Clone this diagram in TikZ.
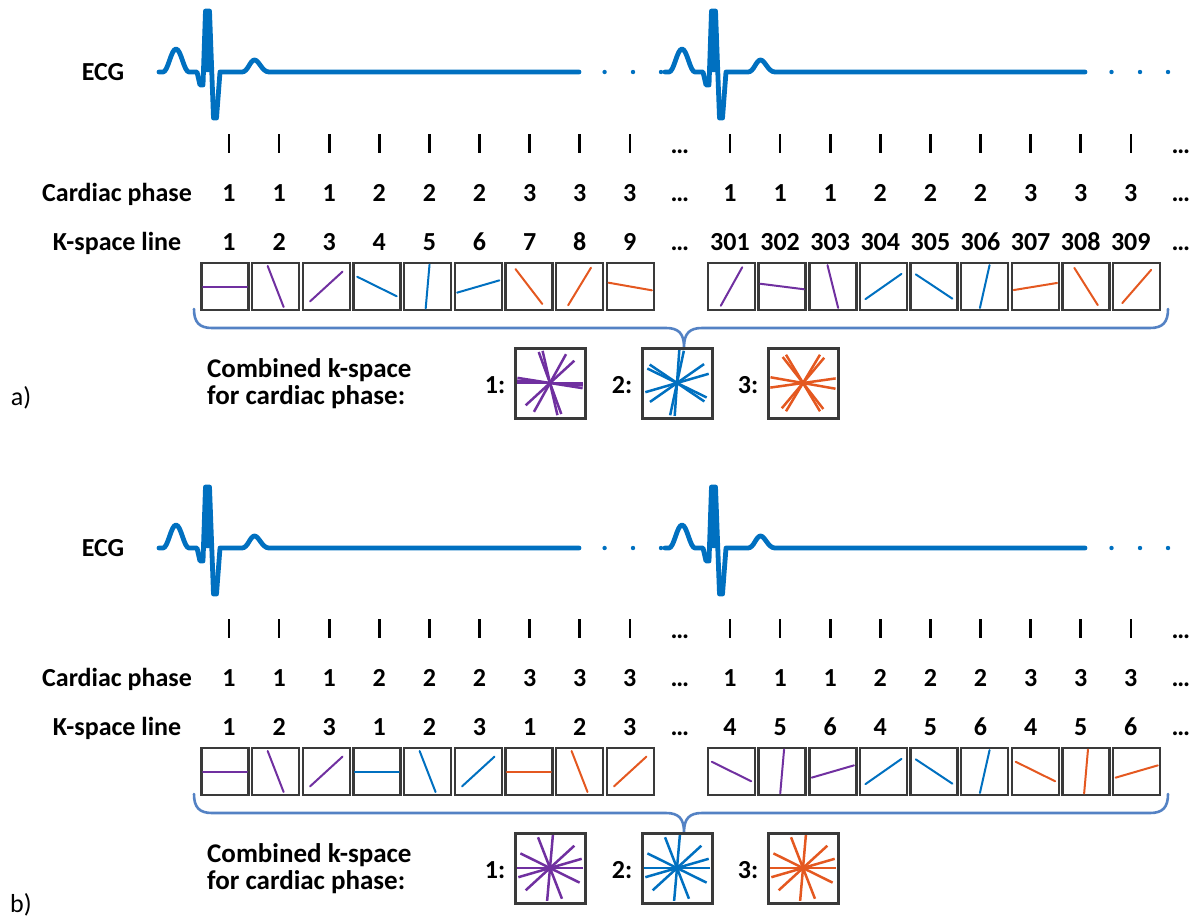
\documentclass[tikz,border=0pt]{standalone}
\usepackage{fontspec}
\setmainfont{Carlito}
\usetikzlibrary{calc}

\definecolor{ecgblue}{RGB}{0,112,192}
\definecolor{kpurple}{RGB}{112,48,160}
\definecolor{kblue}{RGB}{0,112,192}
\definecolor{korange}{RGB}{228,88,32}
\definecolor{framegray}{RGB}{58,58,58}
\definecolor{bracecol}{RGB}{84,130,196}

\tikzset{
  lbl/.style={font=\fontsize{26}{30}\selectfont\bfseries, inner sep=0pt, anchor=base},
  plain/.style={font=\fontsize{26}{30}\selectfont, inner sep=0pt},
  ecg/.style={draw=ecgblue, line width=4.8pt, line join=round, line cap=round},
  ecgdot/.style={fill=ecgblue, draw=none},
  tickmark/.style={line width=2.6pt, draw=black},
  kbox/.style={draw=framegray, line width=2.4pt, minimum size=47pt, inner sep=0pt},
  cbox/.style={draw=framegray, line width=3pt, minimum size=70pt, inner sep=0pt},
  spoke/.style={line width=2pt, line cap=round},
  cspoke/.style={line width=2.5pt},
  bracket/.style={draw=bracecol, line width=2.6pt, line cap=round, line join=round},
}

% one heart beat followed by the flat diastolic line
\newcommand\ecgtrace[2]{%
  \begin{scope}[shift={(#1,#2)}]
  \fill[ecgblue] (44.5,0) -- (46.5,-61) -- (50.5,-61) -- (53,0) -- cycle;
  \draw[ecg] (0,0) -- (4,0)
    .. controls (9,0) and (12,-23) .. (17,-23)
    .. controls (22,-23) and (25,0) .. (30,0) -- (38,0)
    -- (41,13) -- (44,13) -- (46.5,-61) -- (50.5,-61) -- (54.5,46) -- (57.5,46) -- (61,0)
    -- (83,0) .. controls (89,0) and (91,-12) .. (95.5,-12)
    .. controls (100,-12) and (103,0) .. (110,0) -- (420,0);
  \end{scope}}

% ECG, trigger ticks, cardiac phase row and row titles (shared by both panels)
\newcommand\sharedrows[2]{%
  \node[lbl] (#1-ecg) at (103,{#2+8}) {ECG};
  \ecgtrace{159}{#2}
  \ecgtrace{665}{#2}
  \foreach \x in {604.6,633,661,1111.5,1140,1168}
    \fill[ecgdot] (\x,#2) circle (2.2pt);
  \node[lbl] (#1-cpl) at (117,201) {Cardiac phase};
  \node[lbl] (#1-ksl) at (117,250) {K-space line};
  \foreach \j/\p in {0/1,1/1,2/1,3/2,4/2,5/2,6/3,7/3,8/3,10/1,11/1,12/1,13/2,14/2,15/2,16/3,17/3,18/3}{
    \draw[tickmark] ({229+50.1*\j},134) -- ({229+50.1*\j},153);
    \node[lbl] (#1-cp\j) at ({229+50.1*\j},201) {\p};
  }
  \foreach \j in {9,19}{
    \node[lbl] (#1-td\j) at ({229+50.1*\j},153) {…};
    \node[lbl] (#1-cd\j) at ({229+50.1*\j},201) {…};
    \node[lbl] (#1-kd\j) at ({229+50.1*\j},250) {…};
  }
  \draw[bracket] (194,309) .. controls (194,322) and (199,328) .. (212,328) -- (666,328)
    .. controls (678,328) and (684,333) .. (684,347)
    .. controls (684,333) and (690,328) .. (702,328) -- (1150,328)
    .. controls (1163,328) and (1168,322) .. (1168,309);
  \node[lbl, anchor=west, align=left, font=\fontsize{27}{27}\selectfont\bfseries]
    (#1-comb) at (207,384) {Combined k-space\\for cardiac phase:};
  \node[lbl, anchor=center] (#1-n1) at (495,385) {1:};
  \node[lbl, anchor=center] (#1-n2) at (622,385) {2:};
  \node[lbl, anchor=center] (#1-n3) at (748,385) {3:};
  \node[cbox] (#1-c1) at (550,383) {};
  \node[cbox] (#1-c2) at (677,383) {};
  \node[cbox] (#1-c3) at (803,383) {};
}

% k-space boxes: column, spoke angle, colour
\newcommand\kboxes[2]{%
  \foreach \j/\a/\c in {#2}{
    \node[kbox] (#1-k\j) at ({225+50.65*\j},286.5) {};
    \draw[spoke,\c] (#1-k\j.center) ++(\a:22pt) -- ++(\a+180:44pt);
  }
}

% combined k-space: box name, colour, angles
\newcommand\combined[3]{%
  \foreach \a in {#3}
    \draw[cspoke,#2] (#1.center) ++(\a:33pt) -- ++(\a+180:66pt);
}

\begin{document}
\begin{tikzpicture}[x=1pt,y=-1pt]
\useasboundingbox (0,0) rectangle (1202,922);

% ---------------- panel a: golden-angle ordering ----------------
\sharedrows{a}{72}
\foreach \j/\k in {0/1,1/2,2/3,3/4,4/5,5/6,6/7,7/8,8/9,10/301,11/302,12/303,13/304,14/305,15/306,16/307,17/308,18/309}
  \node[lbl] (a-ks\j) at ({229+50.1*\j},250) {\k};
\kboxes{a}{0/0/kpurple,1/111.25/kpurple,2/42.5/kpurple,3/153.7/kblue,4/85/kblue,5/16.2/kblue,6/127.5/korange,7/58.7/korange,8/170/korange,10/60.9/kpurple,11/172.8/kpurple,12/104/kpurple,13/35/kblue,14/146.4/kblue,15/77.3/kblue,16/9.3/korange,17/122.2/korange,18/49/korange}
\combined{a-c1}{kpurple}{0,176,171,103,110,60.9,42.5}
\combined{a-c2}{kblue}{86,78,154,146,16.2,35}
\combined{a-c3}{korange}{128,121,59,50,170,8}
\node[plain] (a-tag) at (21,398) {a)};

% ---------------- panel b: repeated ordering ----------------
\begin{scope}[shift={(0,485)}]
\sharedrows{b}{63}
\foreach \j/\k in {0/1,1/2,2/3,3/1,4/2,5/3,6/1,7/2,8/3,10/4,11/5,12/6,13/4,14/5,15/6,16/4,17/5,18/6}
  \node[lbl] (b-ks\j) at ({229+50.1*\j},250) {\k};
\kboxes{b}{0/0/kpurple,1/111.25/kpurple,2/42.5/kpurple,3/0/kblue,4/111.25/kblue,5/42.5/kblue,6/0/korange,7/111.25/korange,8/42.5/korange,10/153.7/kpurple,11/85/kpurple,12/16.2/kpurple,13/35/kblue,14/146.4/kblue,15/77.3/kblue,16/153.7/korange,17/85/korange,18/16.2/korange}
\combined{b-c1}{kpurple}{0,16.2,42.5,85,111.25,153.7}
\combined{b-c2}{kblue}{0,16.2,42.5,85,111.25,153.7}
\combined{b-c3}{korange}{0,16.2,42.5,85,111.25,153.7}
\end{scope}
\node[plain] (b-tag) at (21,905) {b)};
\end{tikzpicture}
\end{document}
